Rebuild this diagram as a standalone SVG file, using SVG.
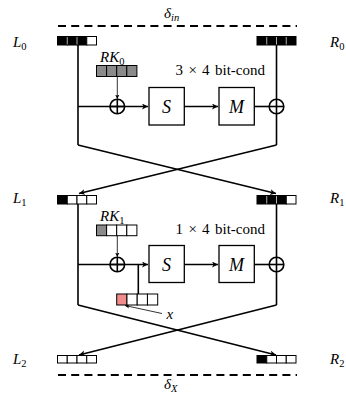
<svg xmlns="http://www.w3.org/2000/svg" width="346" height="400" viewBox="0 0 346 400">
<defs>
<style>
.m{font-family:"Liberation Serif","DejaVu Serif",serif;font-style:italic;fill:#000}
.t{font-family:"Liberation Serif","DejaVu Serif",serif;fill:#000}
.ln{stroke:#000;stroke-width:1.6;fill:none}
.thin{stroke:#000;stroke-width:0.8;fill:none}
.box{stroke:#000;stroke-width:1.3;fill:#fff}
.c{stroke:#000;stroke-width:1;}
.k{fill:#000}.w{fill:#fff}.g{fill:#8a8a8a}.p{fill:#f28c8c}
.sep{stroke:#d8d8d8;stroke-width:0.8}
.dash{stroke:#000;stroke-width:1.8;stroke-dasharray:8 5.2}
</style>
<marker id="ah" markerWidth="8" markerHeight="8" refX="6" refY="3" orient="auto" markerUnits="userSpaceOnUse">
<path d="M0,0 L6,3 L0,6 L1.6,3 z" fill="#000"/>
</marker>
<marker id="ahs" markerWidth="6" markerHeight="6" refX="4.5" refY="2.2" orient="auto" markerUnits="userSpaceOnUse">
<path d="M0,0 L4.5,2.2 L0,4.4 L1.2,2.2 z" fill="#000"/>
</marker>
</defs>
<rect width="346" height="400" fill="#fff"/>

<g id="delta-in"><line class="dash" x1="58" y1="26" x2="297" y2="26"/><text class="m" x="164" y="18" font-size="15">δ<tspan font-size="10.5" dy="3">in</tspan></text></g>
<g id="delta-x"><line class="dash" x1="58" y1="375" x2="297" y2="375"/><text class="m" x="164" y="389" font-size="15">δ<tspan font-size="10.5" dy="3">X</tspan></text></g>

<g id="connectors">
<line class="ln" x1="78" y1="45" x2="78" y2="145"/>
<line class="ln" x1="276.5" y1="45" x2="276.5" y2="145"/>
<line class="ln" x1="78" y1="106.5" x2="148" y2="106.5" marker-end="url(#ah)"/>
<line class="ln" x1="184.3" y1="106.5" x2="218" y2="106.5" marker-end="url(#ah)"/>
<line class="ln" x1="254.3" y1="106.5" x2="269.2" y2="106.5"/>
<line class="thin" x1="117.3" y1="76.7" x2="117.3" y2="99" marker-end="url(#ahs)"/>
<line class="ln" x1="78" y1="145" x2="276" y2="193.5" marker-end="url(#ah)"/>
<line class="ln" x1="276.5" y1="145" x2="79" y2="193.5" marker-end="url(#ah)"/>
<line class="ln" x1="78" y1="204" x2="78" y2="305"/>
<line class="ln" x1="276.5" y1="204" x2="276.5" y2="305"/>
<line class="ln" x1="78" y1="264.5" x2="148" y2="264.5" marker-end="url(#ah)"/>
<line class="ln" x1="184.3" y1="264.5" x2="218" y2="264.5" marker-end="url(#ah)"/>
<line class="ln" x1="254.3" y1="264.5" x2="269.2" y2="264.5"/>
<line class="thin" x1="117.3" y1="235.7" x2="117.3" y2="257" marker-end="url(#ahs)"/>
<line class="ln" x1="138.3" y1="264.5" x2="138.3" y2="294"/>
<line class="thin" x1="162" y1="313.5" x2="125" y2="305.5" marker-end="url(#ahs)"/>
<line class="ln" x1="78" y1="305" x2="276" y2="355" marker-end="url(#ah)"/>
<line class="ln" x1="276.5" y1="305" x2="79" y2="355" marker-end="url(#ah)"/>
</g>

<g id="L0"><text class="m" x="13" y="47" font-size="15">L<tspan class="t" font-style="normal" font-size="10.5" dy="3">0</tspan></text>
<rect class="c k" x="57.5" y="36.5" width="9.75" height="8.5"/><rect class="c k" x="67.25" y="36.5" width="9.75" height="8.5"/><rect class="c k" x="77" y="36.5" width="9.75" height="8.5"/><rect class="c w" x="86.75" y="36.5" width="9.75" height="8.5"/>
<line class="sep" x1="67.25" y1="37" x2="67.25" y2="44.5"/><line class="sep" x1="77" y1="37" x2="77" y2="44.5"/></g>
<g id="R0"><text class="m" x="330" y="47" font-size="15">R<tspan class="t" font-style="normal" font-size="10.5" dy="3">0</tspan></text>
<rect class="c k" x="257" y="36.5" width="39" height="8.5"/>
<line class="sep" x1="266.75" y1="37" x2="266.75" y2="44.5"/><line class="sep" x1="276.5" y1="37" x2="276.5" y2="44.5"/><line class="sep" x1="286.25" y1="37" x2="286.25" y2="44.5"/></g>
<g id="RK0"><text class="m" x="100" y="62" font-size="15">RK<tspan class="t" font-style="normal" font-size="10.5" dy="3">0</tspan></text>
<rect class="c g" x="96.5" y="65.5" width="10.1" height="11"/><rect class="c g" x="106.6" y="65.5" width="10.1" height="11"/><rect class="c g" x="116.7" y="65.5" width="10.1" height="11"/><rect class="c g" x="126.8" y="65.5" width="10.1" height="11"/></g>
<g id="cond1"><text class="t" y="75" font-size="15"><tspan x="175.5">3</tspan><tspan x="188.5">×</tspan><tspan x="202">4</tspan><tspan x="215">bit-cond</tspan></text></g>
<g id="xor0"><circle class="ln" cx="117.3" cy="106.5" r="7.3"/><line class="ln" x1="110" y1="106.5" x2="124.6" y2="106.5"/><line class="ln" x1="117.3" y1="99.2" x2="117.3" y2="113.8"/></g>
<g id="S0"><rect class="box" x="149" y="87.5" width="35.3" height="37.5"/><text class="m" x="166.6" y="112.5" font-size="18" text-anchor="middle">S</text></g>
<g id="M0"><rect class="box" x="219" y="87.5" width="35.3" height="37.5"/><text class="m" x="236.6" y="112.5" font-size="18" text-anchor="middle">M</text></g>
<g id="xor0r"><circle class="ln" cx="276.5" cy="106.5" r="7.3"/><line class="ln" x1="269.2" y1="106.5" x2="283.8" y2="106.5"/></g>

<g id="L1"><text class="m" x="13" y="203" font-size="15">L<tspan class="t" font-style="normal" font-size="10.5" dy="3">1</tspan></text>
<rect class="c k" x="57.5" y="195.5" width="9.75" height="8.5"/><rect class="c w" x="67.25" y="195.5" width="9.75" height="8.5"/><rect class="c w" x="77" y="195.5" width="9.75" height="8.5"/><rect class="c w" x="86.75" y="195.5" width="9.75" height="8.5"/></g>
<g id="R1"><text class="m" x="330" y="203" font-size="15">R<tspan class="t" font-style="normal" font-size="10.5" dy="3">1</tspan></text>
<rect class="c k" x="257" y="195.5" width="29.25" height="8.5"/><rect class="c w" x="286.25" y="195.5" width="9.75" height="8.5"/>
<line class="sep" x1="266.75" y1="196" x2="266.75" y2="203.5"/><line class="sep" x1="276.5" y1="196" x2="276.5" y2="203.5"/></g>
<g id="RK1"><text class="m" x="100" y="221" font-size="15">RK<tspan class="t" font-style="normal" font-size="10.5" dy="3">1</tspan></text>
<rect class="c g" x="96.5" y="225" width="10.1" height="10.7"/><rect class="c w" x="106.6" y="225" width="10.1" height="10.7"/><rect class="c w" x="116.7" y="225" width="10.1" height="10.7"/><rect class="c w" x="126.8" y="225" width="10.1" height="10.7"/></g>
<g id="cond2"><text class="t" y="234" font-size="15"><tspan x="175.5">1</tspan><tspan x="188.5">×</tspan><tspan x="202">4</tspan><tspan x="215">bit-cond</tspan></text></g>
<g id="xor1"><circle class="ln" cx="117.3" cy="264.5" r="7.3"/><line class="ln" x1="110" y1="264.5" x2="124.6" y2="264.5"/><line class="ln" x1="117.3" y1="257.2" x2="117.3" y2="271.8"/></g>
<g id="S1"><rect class="box" x="149" y="245.5" width="35.3" height="37"/><text class="m" x="166.6" y="270.5" font-size="18" text-anchor="middle">S</text></g>
<g id="M1"><rect class="box" x="219" y="245.5" width="35.3" height="37"/><text class="m" x="236.6" y="270.5" font-size="18" text-anchor="middle">M</text></g>
<g id="xor1r"><circle class="ln" cx="276.5" cy="264.5" r="7.3"/><line class="ln" x1="269.2" y1="264.5" x2="283.8" y2="264.5"/></g>
<g id="Xreg"><rect class="c p" x="116.7" y="294" width="10.25" height="11"/><rect class="c w" x="126.95" y="294" width="10.25" height="11"/><rect class="c w" x="137.2" y="294" width="10.25" height="11"/><rect class="c w" x="147.45" y="294" width="10.25" height="11"/>
<text class="m" x="166.5" y="319" font-size="15">x</text></g>

<g id="L2"><text class="m" x="13" y="364" font-size="15">L<tspan class="t" font-style="normal" font-size="10.5" dy="3">2</tspan></text>
<rect class="c w" x="57.5" y="355.5" width="9.75" height="7.5"/><rect class="c w" x="67.25" y="355.5" width="9.75" height="7.5"/><rect class="c w" x="77" y="355.5" width="9.75" height="7.5"/><rect class="c w" x="86.75" y="355.5" width="9.75" height="7.5"/></g>
<g id="R2"><text class="m" x="330" y="364" font-size="15">R<tspan class="t" font-style="normal" font-size="10.5" dy="3">2</tspan></text>
<rect class="c k" x="257" y="355.5" width="9.75" height="7.5"/><rect class="c w" x="266.75" y="355.5" width="9.75" height="7.5"/><rect class="c w" x="276.5" y="355.5" width="9.75" height="7.5"/><rect class="c w" x="286.25" y="355.5" width="9.75" height="7.5"/></g>
</svg>
